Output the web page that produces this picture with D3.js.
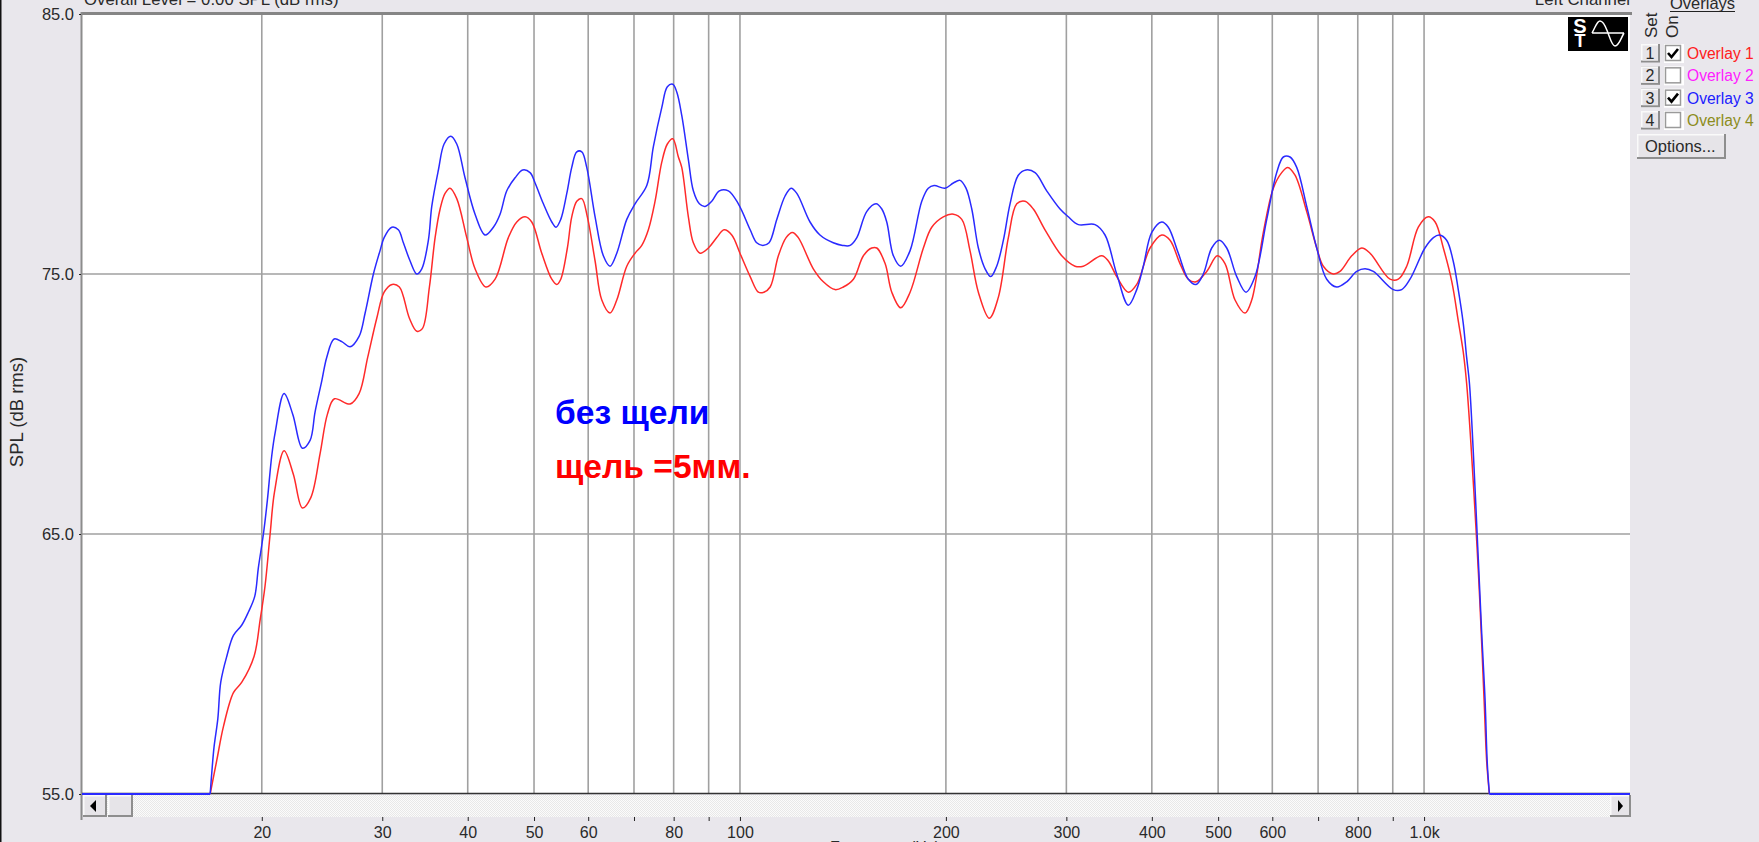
<!DOCTYPE html>
<html><head><meta charset="utf-8">
<style>
html,body{margin:0;padding:0;background:#e9e7ec;overflow:hidden}
svg{display:block}
text{font-family:"Liberation Sans",Arial,sans-serif;font-size:16px;fill:#2a2a2a}
.axis path{display:none}
.axis line{stroke:#222}
</style>
<script src="https://d3js.org/d3.v7.min.js"></script>
</head><body>
<svg id="chart" width="1759" height="842"></svg>
<script>
// frequency (Hz) / level (dB)
const blueFreq=[16.81,16.90,17.03,17.25,17.42,17.78,18.18,18.70,19.12,19.53,19.77,20.11,20.38,20.68,20.92,21.56,22.20,22.93,23.53,23.93,24.48,24.89,25.51,26.18,26.92,27.75,28.32,29.12,29.78,30.19,30.98,31.67,
32.21,32.95,33.70,34.27,35.04,35.44,36.24,36.94,37.78,38.55,39.64,41.00,42.41,43.61,44.60,45.62,46.91,48.14,49.34,50.18,51.60,53.08,53.85,54.71,55.83,56.77,57.74,58.72,59.71,61.41,63.14,64.58,
66.06,68.32,70.25,73.08,74.72,76.86,78.32,79.76,80.84,82.21,84.06,85.48,87.23,88.92,90.95,93.30,96.17,99.46,103.5,105.8,108.0,110.3,113.2,116.4,118.8,121.1,126.6,130.9,136.9,141.3,144.9,148.2,
153.2,158.1,161.2,163.9,167.6,171.8,177.3,184.4,188.5,192.2,199.4,205.1,209.8,214.0,218.2,223.1,228.2,232.6,237.3,242.7,248.2,255.2,261.9,270.0,280.8,293.7,302.0,312.3,330.4,341.7,355.4,369.6,
380.2,388.7,399.9,413.6,422.8,437.3,452.3,464.2,475.7,489.3,502.0,514.7,532.3,549.2,566.1,588.9,609.0,622.7,636.9,651.4,673.7,696.8,720.6,745.3,770.8,797.2,819.8,843.0,901.7,927.5,953.8,1003,
1032,1053,1079,1103,1122,1141,1154,1165,1180,1198,1214,1228,1237,1246];
const blueDb=[55.0,55.8,56.8,57.9,59.3,60.3,61.1,61.5,62.0,62.6,63.7,65.0,66.3,68.0,68.9,70.4,69.6,68.3,68.6,69.7,70.9,71.8,72.5,72.4,72.2,72.6,73.5,75.0,75.9,76.4,76.8,76.7,76.2,75.5,75.0,75.2,76.3,77.6,
79.0,80.0,80.3,80.0,78.7,77.3,76.5,76.8,77.3,78.2,78.7,79.0,78.9,78.5,77.7,77.0,76.8,77.1,78.1,79.1,79.7,79.7,79.1,77.2,75.7,75.3,75.8,77.1,77.7,78.4,79.9,81.4,82.2,82.3,82.0,81.1,79.4,78.2,
77.7,77.6,77.8,78.2,78.2,77.7,76.7,76.2,76.1,76.2,77.1,78.0,78.3,78.1,77.0,76.5,76.2,76.1,76.1,76.4,77.4,77.7,77.5,77.0,75.7,75.3,75.9,77.8,78.3,78.4,78.3,78.5,78.6,78.3,77.5,76.0,75.2,74.9,
75.3,76.3,77.7,78.8,79.0,78.9,78.2,77.5,77.2,76.9,76.9,76.5,75.0,73.8,74.4,75.3,76.6,77.0,76.8,75.8,74.8,74.6,75.0,76.0,76.3,76.0,74.9,74.3,74.9,77.1,78.9,79.5,79.5,79.1,77.6,76.0,74.8,74.5,
74.7,75.1,75.2,75.1,74.4,74.4,74.8,76.0,76.4,76.5,76.3,75.5,74.4,73.1,71.8,70.8,68.2,64.5,61.2,58.6,56.2,55.0];
const redFreq=[16.81,17.19,17.58,18.18,18.70,19.49,19.89,20.22,20.57,20.87,21.56,22.24,22.93,23.59,24.34,24.94,25.54,26.92,27.75,28.57,29.45,30.19,31.01,31.78,32.87,33.70,34.34,35.16,35.84,36.45,37.06,37.69,
38.55,39.87,41.00,42.51,43.86,45.86,47.18,48.52,49.62,51.32,53.08,53.98,54.71,55.94,56.77,57.74,58.72,59.83,61.41,62.81,64.58,66.06,68.32,70.25,71.86,73.47,75.15,76.86,78.32,79.76,81.28,82.21,
84.06,85.48,87.43,89.91,92.49,94.79,97.28,100.0,103.5,106.4,108.4,110.7,113.8,116.8,119.3,121.7,128.0,132.4,137.7,141.6,146.5,151.5,155.8,158.5,163.0,166.7,171.8,177.3,185.4,190.7,198.3,205.1,
211.0,216.9,223.1,231.5,238.6,246.8,253.9,261.0,268.4,279.2,295.4,308.9,317.6,337.9,345.5,355.4,369.6,380.2,397.6,413.6,425.3,439.8,452.3,464.2,481.2,498.7,511.7,529.3,547.4,559.9,582.2,602.1,
619.3,632.0,647.7,673.7,696.8,712.4,736.8,753.6,783.9,810.7,833.7,891.7,917.0,943.3,980.8,1014,1038,1067,1098,1122,1141,1154,1170,1194,1207,1224,1235,1246];
const redDb=[55.0,56.3,57.6,58.9,59.3,60.3,61.7,63.0,65.0,66.6,68.2,67.3,66.0,66.4,68.1,69.6,70.2,70.0,70.4,71.8,73.3,74.3,74.6,74.5,73.3,72.8,72.9,74.5,76.4,77.5,78.1,78.3,77.9,76.4,75.2,74.5,74.8,76.4,
77.0,77.2,77.0,75.8,74.8,74.6,74.8,76.0,77.2,77.8,77.9,77.2,75.5,74.0,73.5,74.0,75.3,75.8,76.1,76.7,77.8,79.3,80.0,80.2,79.5,79.1,77.2,76.2,75.8,76.0,76.4,76.7,76.5,75.8,74.9,74.3,74.3,74.5,
75.7,76.4,76.6,76.4,75.2,74.7,74.4,74.5,74.8,75.7,76.0,76.0,75.4,74.3,73.7,74.3,76.0,76.8,77.2,77.3,77.1,75.9,74.3,73.3,74.1,76.4,77.7,77.8,77.5,76.7,75.7,75.3,75.3,75.7,75.5,74.9,74.3,74.6,
76.0,76.5,76.3,75.4,74.8,74.7,75.1,75.7,75.4,74.0,73.5,74.0,76.6,78.3,78.9,79.1,78.8,77.4,76.0,75.3,75.0,75.1,75.7,76.0,75.8,74.8,74.8,75.3,76.8,77.2,77.0,76.0,74.7,73.2,72.0,70.8,68.6,64.7,
62.3,58.6,56.2,55.0];
// the trace sits on the floor of the scale outside the sweep
const floorLeft=[[10.92,55],[16.81,55]];
const floorRight=[[1246,55],[2000,55]];
const gridFreqs=[20,30,40,50,60,70,80,90,100,200,300,400,500,600,700,800,900,1000];
const freqLabels={20:'20',30:'30',40:'40',50:'50',60:'60',80:'80',100:'100',200:'200',300:'300',400:'400',500:'500',600:'600',800:'800',1000:'1.0k'};
const dbTicks=[55,65,75,85];
const overlayNames=['Overlay 1','Overlay 2','Overlay 3','Overlay 4'];
const overlayOn=[true,false,true,false];
const overlayColors=['#ff2020','#ff20ff','#2020ff','#8c8c20'];

const svg=d3.select('#chart');
const xSc=d3.scaleLog().domain([10.92,2000]).range([82,1630]);
const ySc=d3.scaleLinear().domain([55,85]).range([794,14]);

svg.append('rect').attr('x',0).attr('y',0).attr('width',1.5).attr('height',842).attr('fill','#111');

// plot area
svg.append('rect').attr('x',82).attr('y',14).attr('width',1548).attr('height',780).attr('fill','#fff');

// Grid lines
svg.append('g').selectAll('line').data(gridFreqs).join('line')
  .attr('x1',d=>xSc(d)).attr('x2',d=>xSc(d)).attr('y1',14).attr('y2',794)
  .attr('stroke','#a0a0a0').attr('stroke-width',1.6);
svg.append('g').selectAll('line').data([65,75]).join('line')
  .attr('x1',82).attr('x2',1630).attr('y1',d=>ySc(d)).attr('y2',d=>ySc(d))
  .attr('stroke','#a0a0a0').attr('stroke-width',1.6);

// frame
svg.append('line').attr('x1',81).attr('x2',1632).attr('y1',13.5).attr('y2',13.5).attr('stroke','#858585').attr('stroke-width',3);
svg.append('line').attr('x1',81.5).attr('x2',81.5).attr('y1',12).attr('y2',820).attr('stroke','#8c8c8c').attr('stroke-width',2);
svg.append('line').attr('x1',82).attr('x2',1630).attr('y1',793.5).attr('y2',793.5).attr('stroke','#333').attr('stroke-width',1.6);

// curves
const line=d3.line().x(d=>xSc(d[0])).y(d=>ySc(d[1])).curve(d3.curveCatmullRom.alpha(0.5));
svg.append('path').datum(d3.zip(redFreq,redDb)).attr('d',line)
  .attr('fill','none').attr('stroke','#ff2a2a').attr('stroke-width',1.5);
svg.append('path').datum(d3.zip(blueFreq,blueDb)).attr('d',line)
  .attr('fill','none').attr('stroke','#2a2aff').attr('stroke-width',1.5);
[floorLeft,floorRight].forEach(seg=>{
  svg.append('path').datum(seg).attr('d',line)
    .attr('fill','none').attr('stroke','#2a2aff').attr('stroke-width',1.8);
});

// scrollbar
const defs=svg.append('defs');
const pat=defs.append('pattern').attr('id','dith').attr('width',2).attr('height',2).attr('patternUnits','userSpaceOnUse');
pat.append('rect').attr('width',2).attr('height',2).attr('fill','#fbfbfb');
pat.append('rect').attr('width',1).attr('height',1).attr('fill','#e8e8e8');
pat.append('rect').attr('x',1).attr('y',1).attr('width',1).attr('height',1).attr('fill','#e8e8e8');
svg.append('rect').attr('x',83).attr('y',795).attr('width',1547).attr('height',22).attr('fill','url(#dith)');

function button(x,y,w,h){
  const g=svg.append('g');
  g.append('rect').attr('x',x).attr('y',y).attr('width',w).attr('height',h).attr('fill','#8e8e8e');
  g.append('rect').attr('x',x).attr('y',y).attr('width',w-2).attr('height',h-2).attr('fill','#fafafa');
  g.append('rect').attr('x',x+1.5).attr('y',y+1.5).attr('width',w-3.5).attr('height',h-3.5).attr('fill','#e6e4e8');
  return g;
}
button(83,795,24,22);
button(108,795,25,22);
button(1610,795,21,22);
svg.append('path').attr('d','M90,806 L96,800 L96,812 Z').attr('fill','#000');
svg.append('path').attr('d','M1623,806 L1618,800 L1618,812 Z').attr('fill','#000');

// axes
const xAxis=d3.axisBottom(xSc).tickValues(gridFreqs).tickSize(4).tickPadding(6)
  .tickFormat(d=>freqLabels[d]||'');
svg.append('g').attr('class','axis').attr('transform','translate(0,817)').call(xAxis)
  .call(g=>g.selectAll('text').style('font-size','16px').style('font-family','"Liberation Sans",Arial,sans-serif').attr('fill','#2a2a2a'));
const yAxis=d3.axisLeft(ySc).tickValues(dbTicks).tickSize(2).tickPadding(5).tickFormat(d3.format('.1f'));
svg.append('g').attr('class','axis').attr('transform','translate(81,0)').call(yAxis)
  .call(g=>g.selectAll('text').style('font-size','16.5px').style('font-family','"Liberation Sans",Arial,sans-serif').attr('fill','#2a2a2a'));

// titles
svg.append('text').attr('x',84).attr('y',5).style('font-size','16.8px').text('Overall Level = 0.00 SPL (dB rms)');
svg.append('text').attr('x',1630).attr('y',5).attr('text-anchor','end').style('font-size','16.8px').text('Left Channel');
svg.append('text').attr('transform','translate(23,412) rotate(-90)').attr('text-anchor','middle').style('font-size','18.5px').text('SPL (dB rms)');
svg.append('text').attr('x',885).attr('y',853).attr('text-anchor','middle').text('Frequency (Hz)');

// annotations
svg.append('text').attr('x',555).attr('y',424).style('font-size','33.6px').style('font-weight','bold').style('fill','#0000ff').text('без щели');
svg.append('text').attr('x',555).attr('y',478).style('font-size','33.6px').style('font-weight','bold').style('fill','#ff0000').text('щель =5мм.');

// logo
svg.append('rect').attr('x',1568).attr('y',17).attr('width',60).attr('height',34).attr('fill','#000');
svg.append('text').attr('x',1580).attr('y',33).attr('text-anchor','middle').style('font-size','20px').style('font-weight','bold').style('fill','#fff').text('S');
svg.append('text').attr('x',1580).attr('y',47).attr('text-anchor','middle').style('font-size','18px').style('font-weight','bold').style('fill','#fff').text('T');
svg.append('path').attr('d','M1592,33 C1596,26 1597,21 1600,21 C1604,21 1606,28 1608,33 C1610,38 1612,46 1615,46 C1619,46 1621,38 1624,33 M1592,33 L1624,33')
  .attr('fill','none').attr('stroke','#fff').attr('stroke-width',1.5);

// overlay panel
svg.append('text').attr('x',1670).attr('y',9).style('font-size','16.5px').text('Overlays');
svg.append('line').attr('x1',1670).attr('x2',1735).attr('y1',11.5).attr('y2',11.5).attr('stroke','#222').attr('stroke-width',1);
svg.append('text').attr('transform','translate(1657,38) rotate(-90)').style('font-size','17px').text('Set');
svg.append('text').attr('transform','translate(1678,38) rotate(-90)').style('font-size','17px').text('On');

const rowY=d3.scaleLinear().domain([0,3]).range([44,111]);
overlayNames.forEach((name,i)=>{
  const y=rowY(i);
  button(1641,y,19,18.5);
  svg.append('text').attr('x',1650).attr('y',y+15).attr('text-anchor','middle').text(i+1);
  svg.append('rect').attr('x',1664).attr('y',y).attr('width',20).attr('height',19).attr('fill','#fff');
  svg.append('rect').attr('x',1665.5).attr('y',y+1.5).attr('width',15).attr('height',15).attr('fill','#fff').attr('stroke','#9a9a9a').attr('stroke-width',1.5);
  if(overlayOn[i]) svg.append('path').attr('d',`M1668,${y+9} L1671.5,${y+13} L1678,${y+5}`)
    .attr('fill','none').attr('stroke','#000').attr('stroke-width',2.6);
  svg.append('text').attr('x',1687).attr('y',y+15).style('font-size','15.6px').style('fill',overlayColors[i]).text(name);
});
button(1637,134,89,25);
svg.append('text').attr('x',1645).attr('y',152).style('font-size','16.5px').text('Options...');
</script>
</body></html>
